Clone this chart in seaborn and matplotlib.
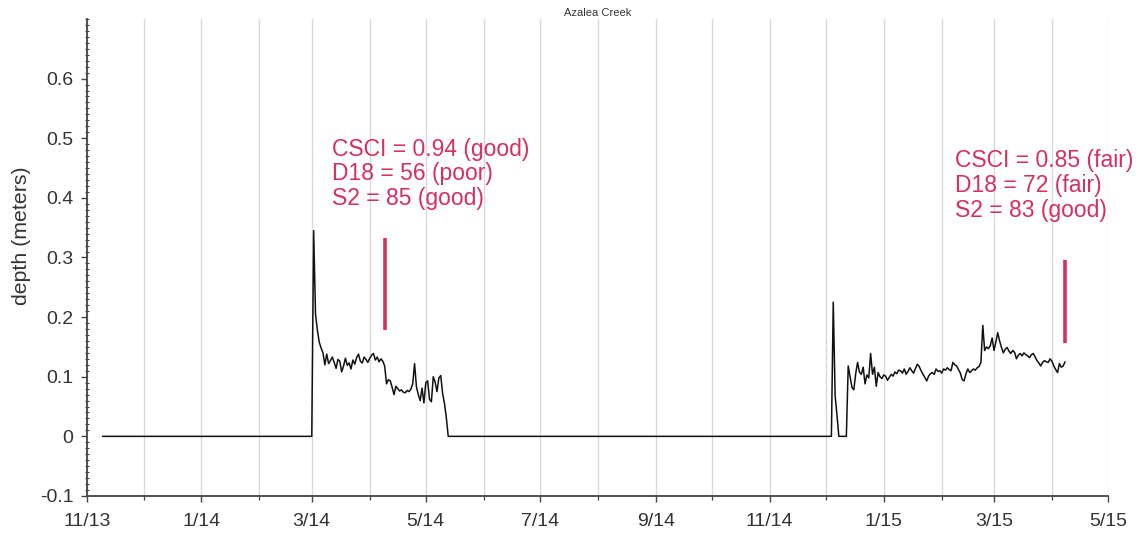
import pandas as pd
import matplotlib
matplotlib.use("Agg")
import matplotlib.pyplot as plt
import matplotlib.dates as mdates
from matplotlib.ticker import MultipleLocator, FixedLocator, FuncFormatter
import seaborn as sns

sns.set_style("white")
plt.rcParams["font.family"] = ["Liberation Sans", "DejaVu Sans"]
plt.rcParams["axes.unicode_minus"] = False

title = "Azalea Creek"
y_label = "depth (meters)"

# logger deployed, dry channel
dry_start = ["2013-11-09"]
dry_depth = [0.0]

# daily depth, spring 2014 flow (starts 2014-03-01)
spring14_start = "2014-03-01"
spring14_depth = [
    0.000, 0.345, 0.205, 0.178, 0.158, 0.148, 0.140, 0.120, 0.138, 0.122,
    0.127, 0.133, 0.124, 0.114, 0.129, 0.126, 0.108, 0.118, 0.131, 0.119,
    0.123, 0.113, 0.128, 0.121, 0.132, 0.138, 0.126, 0.123, 0.133, 0.129,
    0.124, 0.131, 0.136, 0.139, 0.128, 0.133, 0.125, 0.130, 0.126, 0.118,
    0.088, 0.095, 0.093, 0.082, 0.070, 0.084, 0.080, 0.076, 0.078, 0.074,
    0.073, 0.077, 0.075, 0.079, 0.088, 0.122, 0.083, 0.070, 0.060, 0.081,
    0.056, 0.090, 0.093, 0.062, 0.058, 0.100, 0.091, 0.075, 0.098, 0.102,
    0.072, 0.055, 0.031, 0.000,
]

# daily depth, winter/spring 2015 flow (starts 2014-12-01)
winter15_start = "2014-12-01"
winter15_depth = [
    0.000, 0.000, 0.000, 0.000, 0.225, 0.068, 0.035, 0.000, 0.000, 0.000,
    0.000, 0.000, 0.118, 0.100, 0.082, 0.078, 0.105, 0.124, 0.108, 0.104,
    0.116, 0.088, 0.103, 0.098, 0.139, 0.104, 0.116, 0.084, 0.107, 0.100,
    0.097, 0.103, 0.101, 0.094, 0.099, 0.104, 0.101, 0.108, 0.105, 0.111,
    0.110, 0.106, 0.113, 0.104, 0.109, 0.115, 0.110, 0.106, 0.114, 0.121,
    0.117, 0.110, 0.104, 0.099, 0.093, 0.101, 0.105, 0.107, 0.104, 0.113,
    0.109, 0.110, 0.106, 0.113, 0.111, 0.115, 0.112, 0.110, 0.124, 0.120,
    0.118, 0.112, 0.106, 0.095, 0.093, 0.105, 0.113, 0.107, 0.110, 0.113,
    0.111, 0.115, 0.117, 0.124, 0.186, 0.144, 0.150, 0.147, 0.152, 0.165,
    0.144, 0.158, 0.174, 0.160, 0.149, 0.140, 0.146, 0.149, 0.143, 0.139,
    0.144, 0.141, 0.130, 0.136, 0.139, 0.135, 0.140, 0.137, 0.135, 0.132,
    0.137, 0.139, 0.133, 0.127, 0.123, 0.118, 0.124, 0.127, 0.125, 0.124,
    0.130, 0.126, 0.118, 0.112, 0.107, 0.122, 0.116, 0.118, 0.125,
]

# bioassessment sampling events
sample_dates = ["2014-04-09", "2015-04-08"]
bar_low = [0.179, 0.157]
bar_high = [0.333, 0.296]
note_dates = ["2014-03-12", "2015-02-08"]
note_tops = [0.501, 0.482]
notes = [
    "CSCI = 0.94 (good)\nD18 = 56 (poor)\nS2 = 85 (good)",
    "CSCI = 0.85 (fair)\nD18 = 72 (fair)\nS2 = 83 (good)",
]

y_ticks = [-0.1, 0.0, 0.1, 0.2, 0.3, 0.4, 0.5, 0.6]

df = pd.concat([
    pd.DataFrame({"date": pd.to_datetime(dry_start), "depth": dry_depth}),
    pd.DataFrame({"date": pd.date_range(spring14_start, periods=len(spring14_depth), freq="D"),
                  "depth": spring14_depth}),
    pd.DataFrame({"date": pd.date_range(winter15_start, periods=len(winter15_depth), freq="D"),
                  "depth": winter15_depth}),
], ignore_index=True)

accent = "#d6305f"
axis_col = "#444444"
label_col = "#333333"

fig = plt.figure(figsize=(11.39, 5.37), dpi=100)
ax = fig.add_axes([0.0768, 0.0764, 0.8960, 0.8883])

sns.lineplot(data=df, x="date", y="depth", ax=ax, color="#111111",
             linewidth=1.1, errorbar=None)

ax.vlines(pd.to_datetime(sample_dates), bar_low, bar_high, color=accent, linewidth=2.6)
for d, top, txt in zip(note_dates, note_tops, notes):
    ax.text(pd.Timestamp(d), top, txt, color=accent, fontsize=16.5,
            ha="left", va="top", linespacing=1.1)

ax.set_xlim(pd.Timestamp("2013-11-01"), pd.Timestamp("2015-05-01"))
ax.set_ylim(-0.1, 0.7)

ax.xaxis.set_major_locator(mdates.MonthLocator(bymonth=[1, 3, 5, 7, 9, 11]))
ax.xaxis.set_minor_locator(mdates.MonthLocator(bymonth=[2, 4, 6, 8, 10, 12]))
ax.xaxis.set_major_formatter(FuncFormatter(
    lambda v, pos: f"{mdates.num2date(v).month}/{mdates.num2date(v):%y}"))

ax.yaxis.set_major_locator(FixedLocator(y_ticks))
ax.yaxis.set_minor_locator(MultipleLocator(0.01))
ax.yaxis.set_major_formatter(FuncFormatter(lambda v, pos: f"{round(v, 2):g}"))

ax.tick_params(axis="both", which="both", bottom=True, left=True, color=axis_col)
ax.tick_params(axis="x", which="major", direction="out", length=4.5, width=1.0,
               labelsize=14, labelcolor=label_col, pad=8)
ax.tick_params(axis="x", which="minor", direction="out", length=3, width=0.9)
ax.tick_params(axis="y", which="major", direction="out", length=4, width=1.0,
               labelsize=14, labelcolor=label_col, pad=6)
ax.tick_params(axis="y", which="minor", direction="inout", length=3, width=0.8)

for side in ("top", "right"):
    ax.spines[side].set_visible(False)
for side in ("left", "bottom"):
    ax.spines[side].set_color(axis_col)
    ax.spines[side].set_linewidth(1.3)

ax.set_axisbelow(True)
ax.grid(False)
ax.grid(axis="x", which="both", color="#d9d9d9", linewidth=1.0)

ax.set_xlabel("")
ax.set_ylabel(y_label, fontsize=15.3, color=label_col)
ax.yaxis.set_label_coords(-0.055, 0.545)
ax.set_title(title, fontsize=8, color=label_col, pad=2)

fig.savefig("out.png", dpi=100, facecolor="white")
